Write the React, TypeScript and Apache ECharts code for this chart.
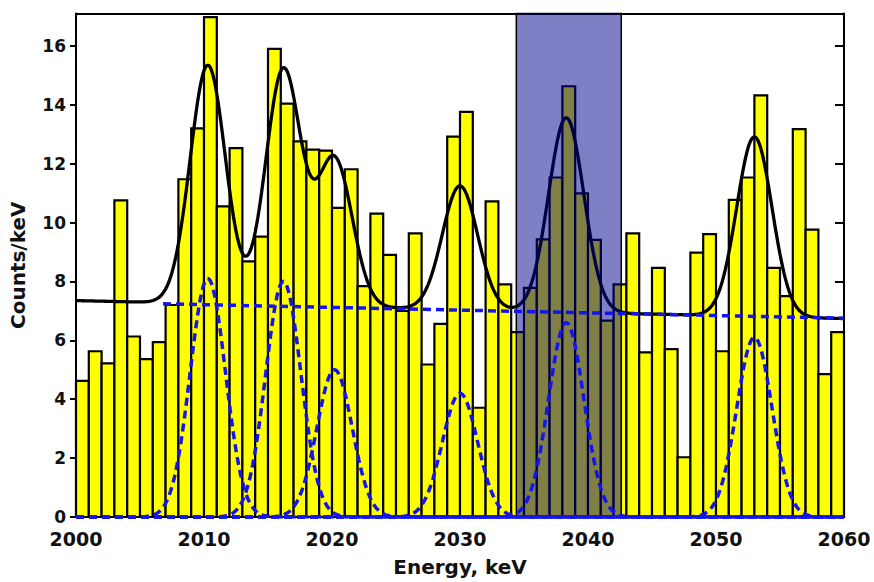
import React, { useEffect, useRef } from "react";
import * as echarts from "echarts";

// Histogram counts per 1 keV bin, bins start at 2000 keV
const binStartEnergy = 2000;
const counts = [
  4.62, 5.63, 5.22, 10.75, 6.13, 5.36, 5.94, 7.2, 11.47, 13.2,
  16.98, 10.55, 12.53, 8.68, 9.52, 15.9, 14.04, 12.76, 12.48, 12.44,
  10.5, 11.81, 7.84, 10.3, 8.9, 7.0, 9.63, 5.18, 6.56, 12.92,
  13.76, 3.71, 10.72, 7.9, 6.28, 7.78, 9.43, 11.53, 14.63, 10.99,
  9.41, 6.67, 7.9, 9.63, 5.59, 8.46, 5.7, 2.03, 8.98, 9.61,
  5.63, 10.77, 11.53, 14.32, 8.46, 7.5, 13.17, 9.76, 4.85, 6.28,
];

// Fit model: linear background + gaussian peaks
const fitBackground = [
  [2000, 7.35],
  [2060, 6.74],
];
const peakCenters = [2010.3, 2016.2, 2020.2, 2030.0, 2038.3, 2053.0];
const peakAmplitudes = [8.1, 8.0, 5.0, 4.2, 6.6, 6.1];
const peakSigmas = [1.38, 1.38, 1.38, 1.38, 1.38, 1.38];
const dashedBackground = [
  [2006.8, 7.24],
  [2060, 6.75],
];
const shadedWindow = [2034.4, 2042.6];

const xTicks = [2000, 2010, 2020, 2030, 2040, 2050, 2060];
const yMax = 17.1;

const bgAt = (x: number) => {
  const [[x0, y0], [x1, y1]] = fitBackground;
  return y0 + ((y1 - y0) * (x - x0)) / (x1 - x0);
};
const gauss = (x: number, i: number) =>
  peakAmplitudes[i] *
  Math.exp(-((x - peakCenters[i]) ** 2) / (2 * peakSigmas[i] ** 2));

const sampleXs: number[] = [];
for (let k = 0; k <= 600; k++) sampleXs.push(2000 + k * 0.1);

export default function App() {
  const ref = useRef<HTMLDivElement>(null);
  useEffect(() => {
    if (!ref.current) return;
    const chart = echarts.init(ref.current, null, { renderer: "svg" });
    const font = "DejaVu Sans";

    const barData = counts.map((v, i) => [binStartEnergy + i, v]);
    const fitData = sampleXs.map((x) => {
      let y = bgAt(x);
      for (let i = 0; i < peakCenters.length; i++) y += gauss(x, i);
      return [x, y];
    });

    const dashStyle = { color: "#1414ee", width: 3.5, type: [8, 5] };

    const gaussSeries = peakCenters.map((_, i) => ({
      type: "line",
      data: sampleXs.map((x) => [x, gauss(x, i)]),
      showSymbol: false,
      symbol: "none",
      lineStyle: dashStyle,
      z: 6,
      silent: true,
    }));

    const axisLineStyle = { show: true, onZero: false, lineStyle: { color: "#000", width: 2 } };

    chart.setOption({
      animation: false,
      grid: { left: 72, right: 30, top: 13.5, bottom: 58 },
      xAxis: [
        {
          type: "value",
          min: 2000,
          max: 2060,
          interval: 10,
          position: "bottom",
          axisLine: axisLineStyle,
          axisTick: { show: false },
          splitLine: { show: false },
          axisLabel: {
            fontFamily: font,
            fontWeight: "bold",
            fontSize: 19,
            color: "#111",
            margin: 12,
            formatter: (v: number) => (xTicks.includes(v) ? String(v) : ""),
          },
          name: "Energy, keV",
          nameLocation: "middle",
          nameGap: 40,
          nameTextStyle: {
            fontFamily: font,
            fontWeight: "bold",
            fontSize: 20,
            color: "#111",
          },
        },
        {
          type: "value",
          min: 2000,
          max: 2060,
          position: "top",
          axisLine: axisLineStyle,
          axisTick: { show: false },
          axisLabel: { show: false },
          splitLine: { show: false },
        },
      ],
      yAxis: [
        {
          type: "value",
          min: 0,
          max: yMax,
          interval: 2,
          position: "left",
          axisLine: axisLineStyle,
          axisTick: {
            show: true,
            inside: false,
            length: 6,
            lineStyle: { color: "#000", width: 2 },
          },
          splitLine: { show: false },
          axisLabel: {
            fontFamily: font,
            fontWeight: "bold",
            fontSize: 17,
            color: "#111",
            margin: 10,
            showMaxLabel: false,
          },
          name: "Counts/keV",
          nameLocation: "middle",
          nameGap: 48,
          nameRotate: 90,
          nameTextStyle: {
            fontFamily: font,
            fontWeight: "bold",
            fontSize: 20,
            color: "#111",
          },
        },
        {
          type: "value",
          min: 0,
          max: yMax,
          interval: 2,
          position: "right",
          axisLine: axisLineStyle,
          axisTick: {
            show: true,
            inside: true,
            length: 9,
            lineStyle: { color: "#000", width: 2 },
          },
          axisLabel: { show: false },
          splitLine: { show: false },
        },
      ],
      series: [
        {
          type: "custom",
          data: barData,
          encode: { x: 0, y: 1 },
          z: 2,
          silent: true,
          renderItem: (_p: any, api: any) => {
            const x0 = api.value(0);
            const v = api.value(1);
            const p1 = api.coord([x0, v]);
            const p2 = api.coord([x0 + 1, 0]);
            return {
              type: "rect",
              shape: {
                x: p1[0],
                y: p1[1],
                width: p2[0] - p1[0],
                height: p2[1] - p1[1],
              },
              style: { fill: "#ffff00", stroke: "#000", lineWidth: 2.2 },
            };
          },
        },
        {
          type: "line",
          data: fitData,
          showSymbol: false,
          symbol: "none",
          lineStyle: { color: "#000", width: 3.3 },
          z: 3,
          silent: true,
        },
        {
          type: "custom",
          data: [shadedWindow],
          encode: { x: [0, 1] },
          z: 4,
          silent: true,
          renderItem: (_p: any, api: any) => {
            const a = api.coord([api.value(0), yMax]);
            const b = api.coord([api.value(1), 0]);
            return {
              type: "rect",
              shape: { x: a[0], y: a[1], width: b[0] - a[0], height: b[1] - a[1] },
              style: {
                fill: "rgba(0,0,140,0.5)",
                stroke: "#000",
                lineWidth: 1.5,
              },
            };
          },
        },
        {
          type: "line",
          data: dashedBackground,
          showSymbol: false,
          symbol: "none",
          lineStyle: dashStyle,
          z: 6,
          silent: true,
        },
        ...gaussSeries,
      ],
    });
    return () => chart.dispose();
  }, []);
  return (
    <div
      ref={ref}
      style={{ position: "fixed", left: 0, top: 0, width: 874, height: 582, background: "#fff" }}
    />
  );
}
